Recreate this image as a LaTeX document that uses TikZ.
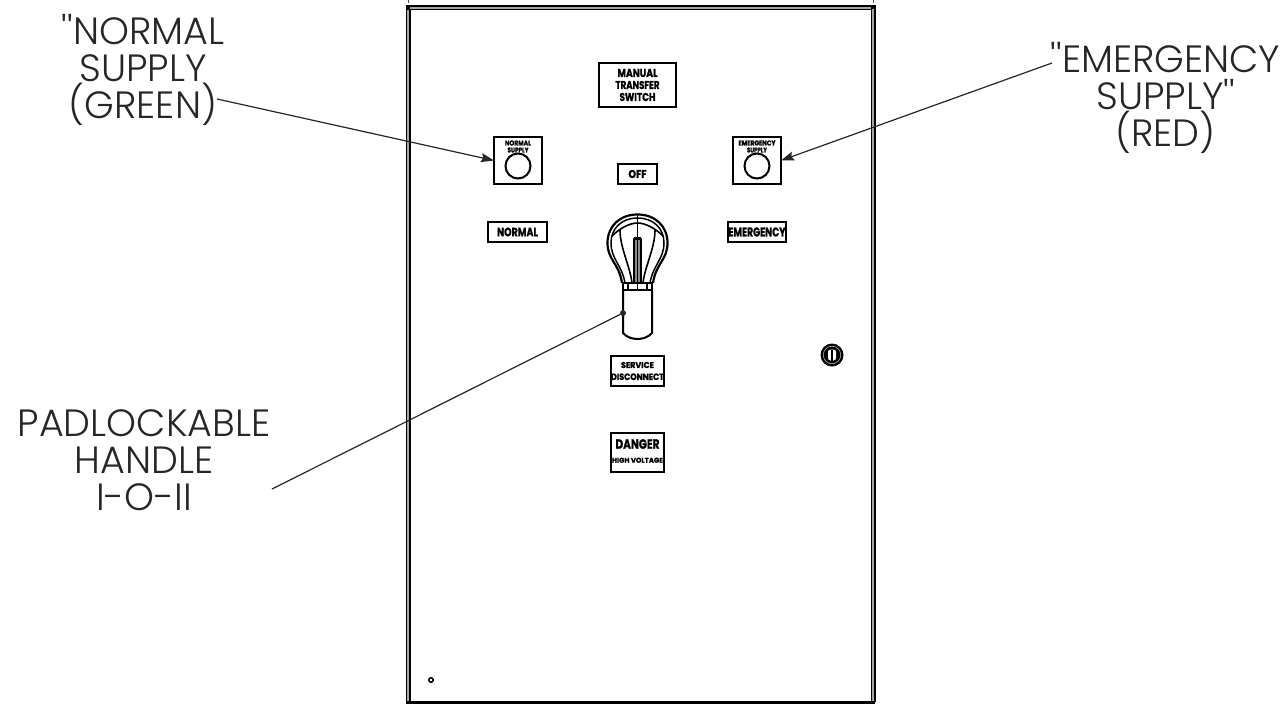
\documentclass[tikz,border=0pt]{standalone}
\usepackage{fontspec}
\usepackage{graphicx}
\usetikzlibrary{arrows.meta}
\newfontfamily\lblfont[UprightFont={* Light},BoldFont={* Bold},BoldFeatures={FakeBold=1.5}]{Poppins}
\tikzset{
  every node/.style={inner sep=0pt,outer sep=0pt},
  callout/.style={align=center,text=black!85,font=\lblfont\fontsize{38}{37}\selectfont},
  plate/.style={draw=black,line width=1.8pt,fill=white,align=center,font=\lblfont\bfseries},
  plainlabel/.style={align=center,font=\lblfont\bfseries},
  leader/.style={draw=black!85,line width=1.2pt},
  arrowed/.style={leader,-{Stealth[length=13pt,width=9pt,inset=2pt]}},
  frameedge/.style={line width=5pt,draw=black},
  frameinner/.style={line width=2pt,draw=black!35},
  handleline/.style={draw=black,line width=1.6pt,line join=round}
}
% text squeezed to a given width and height (px)
\newcommand{\fitw}[3]{\resizebox{#1pt}{#2pt}{#3}}
\begin{document}
\begin{tikzpicture}[x=1pt,y=-1pt]
\useasboundingbox (0,0) rectangle (1285,704);
% frame
\draw[frameedge] (408,7.5) -- (873,7.5) (408,5) -- (408,702) (873,5) -- (873,702);
\draw[frameinner] (408,7.5) -- (873,7.5) (408,9) -- (408,702) (873,9) -- (873,702);
\draw[line width=2.5pt,draw=black] (406,702.5) -- (875,702.5);
\fill[black] (405.5,5) rectangle (410,10);
\fill[black] (871,4.5) rectangle (875.5,9);
\draw[line width=.8pt,black!70] (408,0) -- (408,3) (873,0) -- (873,3);
% plates
\node[plate,minimum width=77pt,minimum height=44pt] (manual) at (637.5,85) {};
\node[plainlabel,font=\lblfont\bfseries\fontsize{8}{12}\selectfont] (manualtxt) at (637.5,85)
  {\fitw{40}{8}{MANUAL}\\\fitw{44}{8}{TRANSFER}\\\fitw{36}{8}{SWITCH}};
\node[plate,minimum width=48pt,minimum height=47pt] (nsupply) at (518,160.5) {};
\node[plate,minimum width=48pt,minimum height=47pt] (esupply) at (757,160.5) {};
\node[plainlabel,font=\lblfont\bfseries\fontsize{5}{7}\selectfont] (nsupplytxt) at (518,146.5)
  {\fitw{26}{5}{NORMAL}\\\fitw{21}{5}{SUPPLY}};
\node[plainlabel,font=\lblfont\bfseries\fontsize{5}{7}\selectfont] (esupplytxt) at (757,146.5)
  {\fitw{37}{5}{EMERGENCY}\\\fitw{20}{5}{SUPPLY}};
\node[draw=black,line width=2pt,circle,minimum size=25pt] (nlamp) at (518,166) {};
\node[draw=black,line width=2pt,circle,minimum size=25pt] (elamp) at (757,166) {};
\node[plate,minimum width=39pt,minimum height=20pt] (off) at (637.5,174) {\fitw{18}{8}{OFF}};
\node[plate,minimum width=59pt,minimum height=20pt] (normal) at (517.5,232) {\fitw{41}{8.5}{NORMAL}};
\node[plate,minimum width=58pt,minimum height=20pt] (emergency) at (757,232) {\fitw{57}{9}{EMERGENCY}};
\node[plate,minimum width=53pt,minimum height=30pt] (service) at (637.5,371) {};
\node[plainlabel,font=\lblfont\bfseries\fontsize{6}{12}\selectfont] (servicetxt) at (637.5,371)
  {\fitw{33}{6}{SERVICE}\\\fitw{53}{6.5}{DISCONNECT}};
\node[plate,minimum width=53pt,minimum height=39pt] (danger) at (637.5,452.5) {};
\node[plainlabel,font=\lblfont\bfseries\fontsize{8}{14}\selectfont] (dangertxt) at (637.5,451)
  {\fitw{44}{9.5}{DANGER}\\\fitw{51}{5}{HIGH VOLTAGE}};
% handle
\draw[handleline,line width=2.2pt] (622,283) .. controls (619,263) and (607.5,260) .. (607.5,243)
   .. controls (607.5,226) and (620,214.5) .. (637.5,214.5)
   .. controls (655,214.5) and (667.5,226) .. (667.5,243)
   .. controls (667.5,260) and (656,263) .. (653,283);
\draw[handleline,line width=1.5pt] (625,283) .. controls (622,265) and (611,259) .. (611,243)
   .. controls (611,228) and (622,218) .. (637.5,218)
   .. controls (653,218) and (664,228) .. (664,243)
   .. controls (664,259) and (653,265) .. (650,283);
\draw[handleline] (637.5,215) -- (637.5,238);
\draw[handleline] (612,236) .. controls (620,228) and (630,223) .. (637.5,223) .. controls (645,223) and (655,228) .. (663,236);
\draw[handleline] (620,230) .. controls (620,248) and (630,266) .. (632,283);
\draw[handleline] (655,230) .. controls (655,248) and (645,266) .. (643,283);
\draw[handleline,fill=black!45] (634,238.5) rectangle (641,283);
\draw[line width=1.6pt,black] (637.5,238.5) -- (637.5,283);
\draw[line width=2.4pt,black] (634,238.5) -- (641,238.5);
\draw[handleline,fill=white] (623,283) rectangle (652,290);
\draw[handleline,line width=2pt] (623,290) -- (623,333) .. controls (630,341) and (645,341) .. (652,333) -- (652,290);
\draw[handleline] (628,283) -- (628,290) (647,283) -- (647,290);
\draw[line width=1.2pt,black] (637.5,283) -- (637.5,290);
% lock and hole
\node[circle,fill=black,minimum size=23pt] (lock) at (832,355) {};
\node[circle,draw=white!70!black,line width=.6pt,minimum size=17.5pt] (lockring) at (832,355) {};
\node[fill=white,rounded corners=2.5pt,minimum width=8pt,minimum height=11pt] (lockslot) at (832,355) {};
\draw[line width=2.8pt,black] (lockslot.north) -- (lockslot.south);
\node[circle,draw=black,line width=1.5pt,fill=white,minimum size=4.5pt] (hole) at (431,680) {};
% callouts
\node[callout] (ntext) at (143,70) {''NORMAL\\SUPPLY\\(GREEN)};
\node[callout] (etext) at (1165.5,98) {''EMERGENCY\\SUPPLY''\\(RED)};
\node[callout] (ptext) at (144,460) {PADLOCKABLE\\HANDLE\\I-O-II};
\coordinate (nstart) at (217,99);
\coordinate (estart) at (1052,63);
\coordinate (pstart) at (272,489);
\node[circle,fill=black!85,minimum size=6pt] (pdot) at (623,313) {};
\draw[arrowed] (nstart) -- (nsupply.west);
\draw[arrowed] (estart) -- (esupply.east);
\draw[leader] (pstart) -- (pdot);
\end{tikzpicture}
\end{document}
